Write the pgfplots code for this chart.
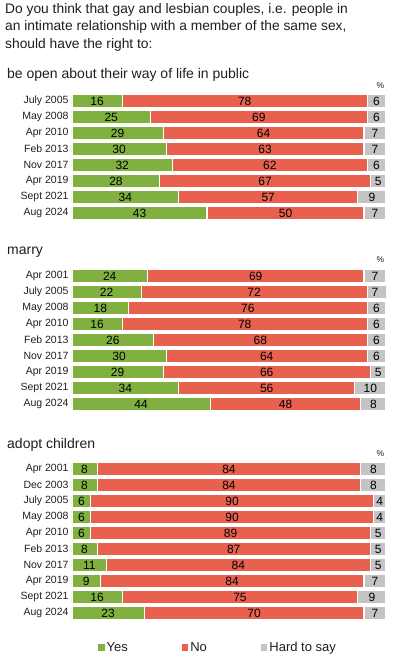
\documentclass[border=0pt]{standalone}
\usepackage{pgfplots}
\usepackage{pgfplotstable}
\pgfplotsset{compat=1.18}
\usepackage{fontspec}
\setmainfont{Liberation Sans}

\definecolor{cyes}{HTML}{80B03F}
\definecolor{cno}{HTML}{E8614F}
\definecolor{chts}{HTML}{C4C4C4}
\definecolor{ctxt}{HTML}{1E1E1E}

\pgfplotstableread[col sep=comma]{
label,yes,no,hts
July 2005,16,78,6
May 2008,25,69,6
Apr 2010,29,64,7
Feb 2013,30,63,7
Nov 2017,32,62,6
Apr 2019,28,67,5
Sept 2021,34,57,9
Aug 2024,43,50,7
}\tabA

\pgfplotstableread[col sep=comma]{
label,yes,no,hts
Apr 2001,24,69,7
July 2005,22,72,7
May 2008,18,76,6
Apr 2010,16,78,6
Feb 2013,26,68,6
Nov 2017,30,64,6
Apr 2019,29,66,5
Sept 2021,34,56,10
Aug 2024,44,48,8
}\tabB

\pgfplotstableread[col sep=comma]{
label,yes,no,hts
Apr 2001,8,84,8
Dec 2003,8,84,8
July 2005,6,90,4
May 2008,6,90,4
Apr 2010,6,89,5
Feb 2013,8,87,5
Nov 2017,11,84,5
Apr 2019,9,84,7
Sept 2021,16,75,9
Aug 2024,23,70,7
}\tabC

\pgfplotsset{
  mybars/.style={
    xbar stacked, scale only axis, width=314pt,
    xmin=0, xmax=100, y dir=reverse,
    bar width=12.5pt,
    axis line style={draw=none}, major tick length=0pt, xtick=\empty,
    yticklabel style={font=\fontsize{10.5}{12}\selectfont, text=ctxt},
    clip mode=individual,
  },
  lblaxis/.style={
    scale only axis, width=314pt, xmin=0, xmax=100, y dir=reverse,
    hide axis, clip=false,
  },
  lblplot/.style={
    draw=none, mark=none, nodes near coords, point meta=explicit,
    /pgf/number format/assume math mode=true,
    every node near coord/.style={anchor=center,
      font=\fontsize{12}{13}\selectfont, text=black, inner sep=0pt},
  },
  syes/.style={fill=cyes, draw=white, line width=1.1pt},
  sno/.style={fill=cno, draw=white, line width=1.1pt},
  shts/.style={fill=chts, draw=white, line width=1.1pt},
}

\begin{document}
\begin{tikzpicture}
\useasboundingbox (0,0) rectangle (397pt,-662pt);

\node[anchor=north west, align=left, inner sep=0pt, text=ctxt,
      font=\fontsize{13.8}{17.5}\selectfont] at (5pt,-3pt)
  {Do you think that gay and lesbian couples, i.e. people in\\
   an intimate relationship with a member of the same sex,\\
   should have the right to:};

\node[anchor=west, inner sep=0pt, text=ctxt, font=\fontsize{14}{16}\selectfont]
  at (7pt,-75pt) {be open about their way of life in public};
\node[anchor=west, inner sep=0pt, text=ctxt, font=\fontsize{14}{16}\selectfont]
  at (7pt,-252.5pt) {marry};
\node[anchor=west, inner sep=0pt, text=ctxt, font=\fontsize{14}{16}\selectfont]
  at (7pt,-445pt) {adopt children};

% Section 1
\begin{axis}[mybars, at={(72pt,-93pt)}, anchor=north west, height=128pt,
  ymin=-0.5, ymax=7.5, ytick={0,...,7}, yticklabels from table={\tabA}{label}]
  \addplot[syes] table[x=yes, y expr=\coordindex]{\tabA};
  \addplot[sno]  table[x=no,  y expr=\coordindex]{\tabA};
  \addplot[shts] table[x=hts, y expr=\coordindex]{\tabA};
  \node[font=\fontsize{8.5}{10}\selectfont, text=ctxt] at (axis cs:98.2,-0.95) {\%};
\end{axis}
\begin{axis}[lblaxis, at={(72pt,-93pt)}, anchor=north west, height=128pt,
  ymin=-0.5, ymax=7.5]
  \addplot[lblplot] table[x expr=\thisrow{yes}/2, y expr=\coordindex, meta=yes]{\tabA};
  \addplot[lblplot] table[x expr=\thisrow{yes}+\thisrow{no}/2, y expr=\coordindex, meta=no]{\tabA};
  \addplot[lblplot] table[x expr=100-\thisrow{hts}/2, y expr=\coordindex, meta=hts]{\tabA};
\end{axis}

% Section 2
\begin{axis}[mybars, at={(72pt,-268pt)}, anchor=north west, height=144pt,
  ymin=-0.5, ymax=8.5, ytick={0,...,8}, yticklabels from table={\tabB}{label}]
  \addplot[syes] table[x=yes, y expr=\coordindex]{\tabB};
  \addplot[sno]  table[x=no,  y expr=\coordindex]{\tabB};
  \addplot[shts] table[x=hts, y expr=\coordindex]{\tabB};
  \node[font=\fontsize{8.5}{10}\selectfont, text=ctxt] at (axis cs:98.2,-1.0) {\%};
\end{axis}
\begin{axis}[lblaxis, at={(72pt,-268pt)}, anchor=north west, height=144pt,
  ymin=-0.5, ymax=8.5]
  \addplot[lblplot] table[x expr=\thisrow{yes}/2, y expr=\coordindex, meta=yes]{\tabB};
  \addplot[lblplot] table[x expr=\thisrow{yes}+\thisrow{no}/2, y expr=\coordindex, meta=no]{\tabB};
  \addplot[lblplot] table[x expr=100-\thisrow{hts}/2, y expr=\coordindex, meta=hts]{\tabB};
\end{axis}

% Section 3
\begin{axis}[mybars, at={(72pt,-461pt)}, anchor=north west, height=160pt,
  ymin=-0.5, ymax=9.5, ytick={0,...,9}, yticklabels from table={\tabC}{label},
  legend columns=3,
  legend image code/.code={\fill[#1, draw=none] (0pt,-3.2pt) rectangle (6.5pt,3.2pt);},
  legend style={at={(rel axis cs:0.465,0)}, anchor=north, yshift=-17pt,
    draw=none, fill=none, font=\fontsize{13}{15}\selectfont, text=ctxt,
    /tikz/every even column/.append style={column sep=52pt}},
  ]
  \addplot[syes] table[x=yes, y expr=\coordindex]{\tabC};
  \addplot[sno]  table[x=no,  y expr=\coordindex]{\tabC};
  \addplot[shts] table[x=hts, y expr=\coordindex]{\tabC};
  \node[font=\fontsize{8.5}{10}\selectfont, text=ctxt] at (axis cs:98.2,-0.95) {\%};
  \legend{Yes,No,Hard to say}
\end{axis}
\begin{axis}[lblaxis, at={(72pt,-461pt)}, anchor=north west, height=160pt,
  ymin=-0.5, ymax=9.5]
  \addplot[lblplot] table[x expr=\thisrow{yes}/2, y expr=\coordindex, meta=yes]{\tabC};
  \addplot[lblplot] table[x expr=\thisrow{yes}+\thisrow{no}/2, y expr=\coordindex, meta=no]{\tabC};
  \addplot[lblplot] table[x expr=100-\thisrow{hts}/2, y expr=\coordindex, meta=hts]{\tabC};
\end{axis}
\end{tikzpicture}
\end{document}
